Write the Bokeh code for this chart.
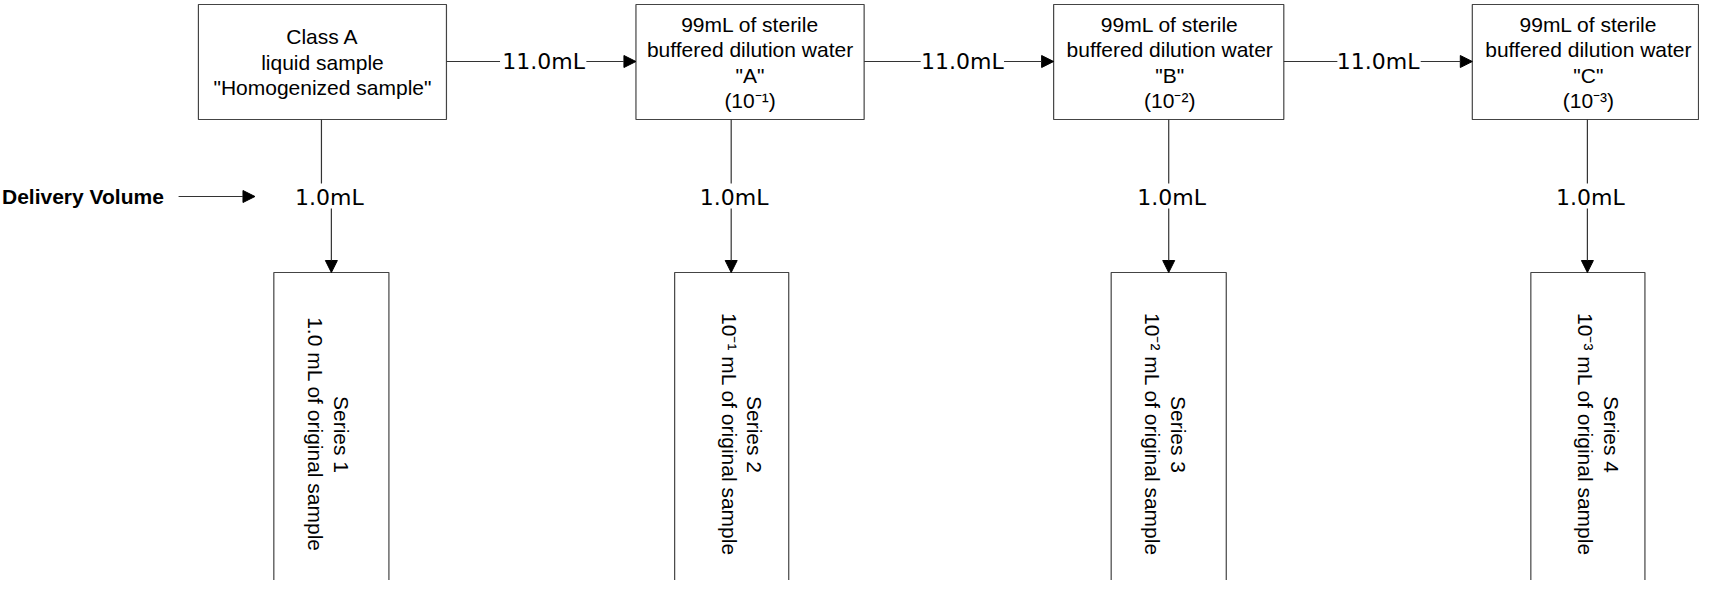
import math
from bokeh.plotting import figure
from bokeh.models import ColumnDataSource, Range1d, Arrow, NormalHead
from bokeh.core.properties import value
from bokeh.embed import file_html
from bokeh.resources import INLINE

# ---------------- content ----------------
sample_lines = ["Class A", "liquid sample", "\"Homogenized sample\""]
diluent_lines = ["99mL of sterile", "buffered dilution water"]
bottle_names = ["\"A\"", "\"B\"", "\"C\""]
bottle_dilutions = ["(10\u207b\u00b9)", "(10\u207b\u00b2)", "(10\u207b\u00b3)"]
transfer_labels = ["11.0mL", "11.0mL", "11.0mL"]
delivery_labels = ["1.0mL", "1.0mL", "1.0mL", "1.0mL"]
series_names = ["Series 1", "Series 2", "Series 3", "Series 4"]
series_amounts = ["1.0 mL of original sample",
                  "10\u207b\u00b9 mL of original sample",
                  "10\u207b\u00b2 mL of original sample",
                  "10\u207b\u00b3 mL of original sample"]
side_label = "Delivery Volume"

# ---------------- layout (diagram coordinates, y downwards) ----------------
box_left = [202, 643, 1064, 1486]
box_right = [452, 873, 1296, 1714]
box_top, box_bottom = 4, 119
box_text_x = [327, 758, 1181, 1603]
sample_text_y = [36, 61.5, 87]
diluent_text_y = [23.5, 49, 74.5, 100]

h_y = 61
h_seg_x0 = [452, 873, 1296]
h_seg_x1 = [506, 930, 1350]
h_label_x = [550, 972, 1391]
h_arrow_x0 = [593, 1014, 1434]
h_arrow_x1 = [643, 1064, 1486]

v_up_x = [326, 739, 1180, 1602]
v_up_y0, v_up_y1 = 119, 183
v_dn_x = [336, 739, 1180, 1602]
v_dn_y0, v_dn_y1 = 208, 272
v_label_x = [334, 742, 1183, 1605]
v_label_y = 197

s_left = [278, 682, 1122, 1545]
s_right = [394, 797, 1238, 1660]
s_top, s_bottom = 272, 640
s_line1_x = [346, 762, 1190, 1626]
s_line2_x = [320, 737, 1164, 1600]
s_text_y = 434

side_x, side_y = 4, 196
side_arrow = (182, 259)

LINE = "#333333"
BOX = "#444444"
FONT = "Liberation Sans"

p = figure(width=1699, height=580, x_range=Range1d(2.5, 1715), y_range=Range1d(580, 0),
           output_backend="svg", toolbar_location=None, x_axis_type=None, y_axis_type=None,
           min_border=0, min_border_left=0, min_border_right=0, min_border_top=0, min_border_bottom=0)
p.grid.visible = False
p.outline_line_color = None
p.background_fill_color = "white"

# top boxes
p.quad(left=box_left, right=box_right, top=[box_top] * 4, bottom=[box_bottom] * 4,
       fill_color="white", line_color=BOX, line_width=1.2)

# series boxes (run off the bottom)
p.quad(left=s_left, right=s_right, top=[s_top] * 4, bottom=[s_bottom] * 4,
       fill_color="white", line_color=BOX, line_width=1.2)

# box texts
txt = dict(text_font=value(FONT), text_font_size="21px", text_color="black",
           text_align="center", text_baseline="middle")
p.text(x=[box_text_x[0]] * 3, y=sample_text_y, text=sample_lines, **txt)
for i in range(3):
    lines = diluent_lines + [bottle_names[i], bottle_dilutions[i]]
    p.text(x=[box_text_x[i + 1]] * 4, y=diluent_text_y, text=lines, **txt)

# horizontal transfers
p.segment(x0=h_seg_x0, y0=[h_y] * 3, x1=h_seg_x1, y1=[h_y] * 3, line_color=LINE, line_width=1.2)
harr = ColumnDataSource(dict(x0=h_arrow_x0, x1=h_arrow_x1, y=[h_y] * 3))
p.add_layout(Arrow(source=harr, x_start="x0", y_start="y", x_end="x1", y_end="y",
                   line_color=LINE, line_width=1.2,
                   end=NormalHead(size=12, fill_color="black", line_color="black")))
p.text(x=h_label_x, y=[h_y] * 3, text=transfer_labels, text_font=value("DejaVu Sans"),
       text_font_size="22px", text_color="black", text_align="center", text_baseline="middle")

# vertical deliveries
p.segment(x0=v_up_x, y0=[v_up_y0] * 4, x1=v_up_x, y1=[v_up_y1] * 4, line_color=LINE, line_width=1.2)
varr = ColumnDataSource(dict(x=v_dn_x, y0=[v_dn_y0] * 4, y1=[v_dn_y1] * 4))
p.add_layout(Arrow(source=varr, x_start="x", y_start="y0", x_end="x", y_end="y1",
                   line_color=LINE, line_width=1.2,
                   end=NormalHead(size=12, fill_color="black", line_color="black")))
p.text(x=v_label_x, y=[v_label_y] * 4, text=delivery_labels, text_font=value("DejaVu Sans"),
       text_font_size="22px", text_color="black", text_align="center", text_baseline="middle")

# series texts (rotated clockwise)
rot = dict(text_font=value(FONT), text_font_size="21px", text_color="black",
           text_align="center", text_baseline="middle", angle=-math.pi / 2)
p.text(x=s_line1_x, y=[s_text_y] * 4, text=series_names, **rot)
p.text(x=s_line2_x, y=[s_text_y] * 4, text=series_amounts, **rot)

# side label
p.text(x=[side_x], y=[side_y], text=[side_label], text_font=value(FONT), text_font_size="21px",
       text_font_style="bold", text_color="black", text_align="left", text_baseline="middle")
sarr = ColumnDataSource(dict(x0=[side_arrow[0]], x1=[side_arrow[1]], y=[side_y]))
p.add_layout(Arrow(source=sarr, x_start="x0", y_start="y", x_end="x1", y_end="y",
                   line_color=LINE, line_width=1.2,
                   end=NormalHead(size=12, fill_color="black", line_color="black")))

open("out.html", "w").write(file_html(p, INLINE))
